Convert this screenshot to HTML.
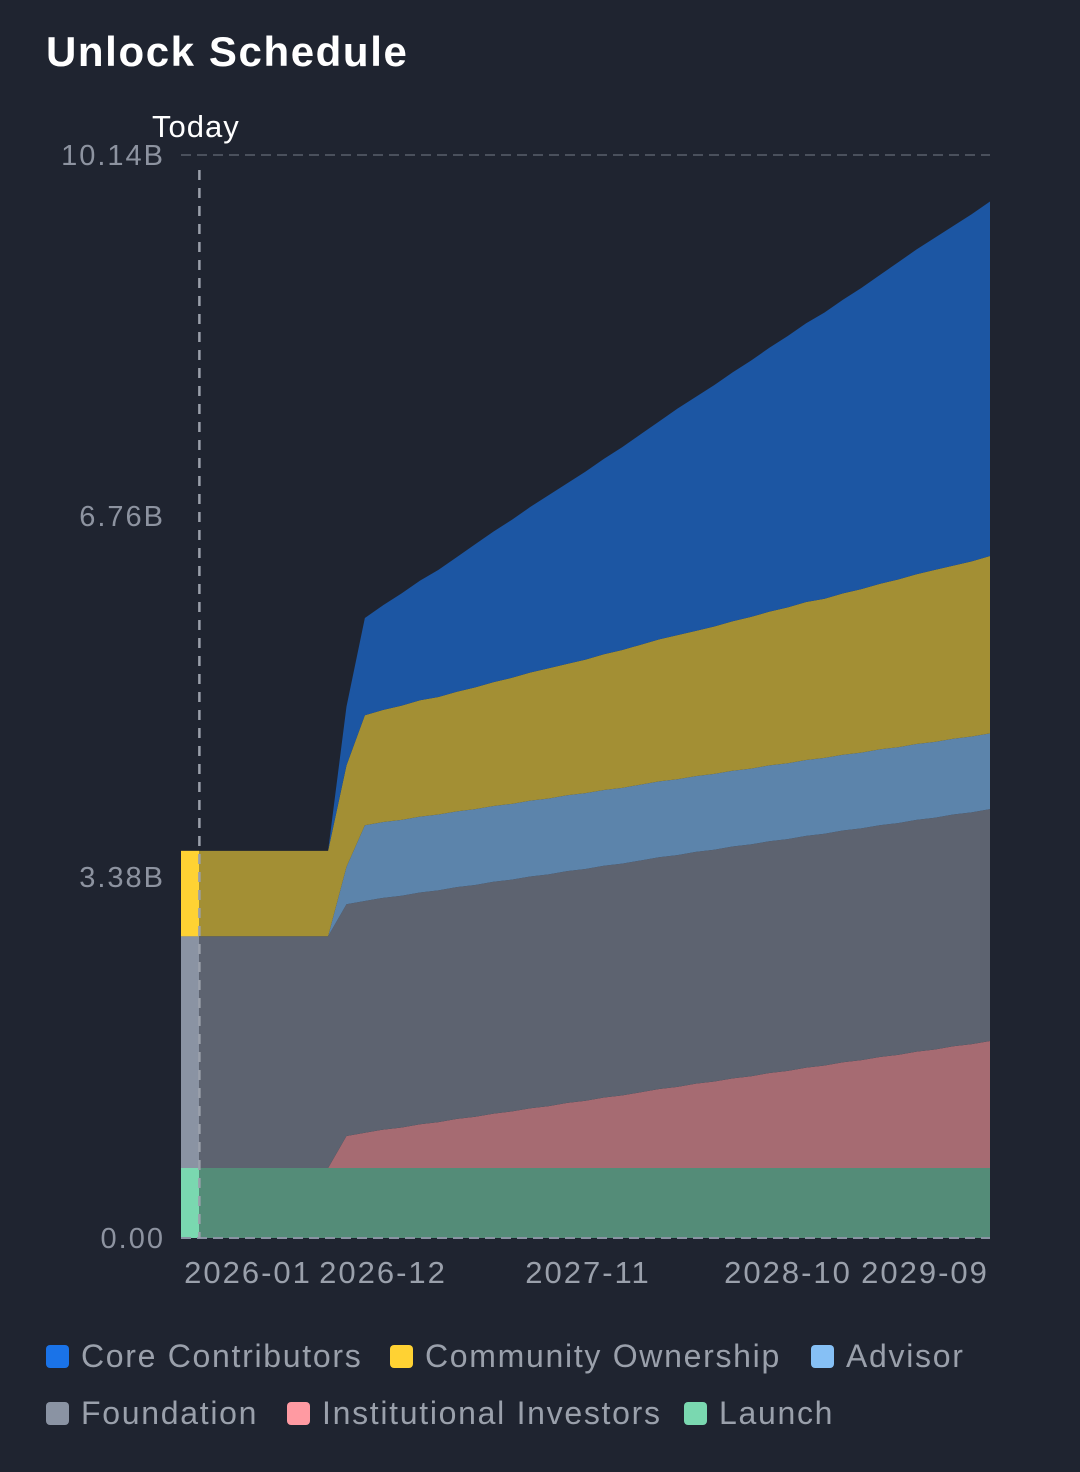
<!DOCTYPE html>
<html><head><meta charset="utf-8"><style>
body{margin:0;background:#1f2430;width:1080px;height:1472px;overflow:hidden;font-family:"Liberation Sans",sans-serif}
</style></head><body>
<svg id="c" width="1080" height="1472" style="position:absolute;left:0;top:0">
<text x="46" y="66" fill="#ffffff" font-size="42" font-weight="bold" letter-spacing="1.6">Unlock Schedule</text>
</svg>
<script>
const months=["2025-12","2026-01","2026-02","2026-03","2026-04","2026-05","2026-06","2026-07","2026-08","2026-09","2026-10","2026-11","2026-12","2027-01","2027-02","2027-03","2027-04","2027-05","2027-06","2027-07","2027-08","2027-09","2027-10","2027-11","2027-12","2028-01","2028-02","2028-03","2028-04","2028-05","2028-06","2028-07","2028-08","2028-09","2028-10","2028-11","2028-12","2029-01","2029-02","2029-03","2029-04","2029-05","2029-06","2029-07","2029-08"];
const launch=Array(45).fill(0.655);
const investors=[0,0,0,0,0,0,0,0,0,0.30,.33,.36,.38,.41,.43,.46,.48,.51,.53,.56,.58,.61,.63,.66,.68,.71,.74,.76,.79,.81,.84,.86,.89,.91,.94,.96,.99,1.01,1.04,1.06,1.09,1.11,1.14,1.16,1.19];
const foundation=Array(45).fill(2.17);
const advisor=[0,0,0,0,0,0,0,0,0,0.35].concat(Array(35).fill(0.71));
const community=[.8,.8,.8,.8,.8,.8,.8,.8,.8,.95,1.03,1.05,1.07,1.09,1.10,1.12,1.14,1.16,1.18,1.20,1.22,1.23,1.25,1.27,1.29,1.31,1.33,1.35,1.36,1.38,1.40,1.42,1.44,1.46,1.48,1.49,1.51,1.53,1.55,1.57,1.59,1.61,1.62,1.64,1.66];
const core=[0,0,0,0,0,0,0,0,0,0.55,.91,.98,1.05,1.12,1.19,1.26,1.34,1.41,1.48,1.55,1.62,1.69,1.76,1.83,1.90,1.97,2.04,2.12,2.19,2.26,2.33,2.40,2.47,2.54,2.61,2.68,2.75,2.82,2.89,2.97,3.04,3.11,3.18,3.25,3.32];
const yTicks=["0.00","3.38B","6.76B","10.14B"];
const yTickVals=[0,3.38,6.76,10.14];
const xTickLabels=["2026-01","2026-12","2027-11","2028-10","2029-09"];
const todayIndex=1;

const svg=document.getElementById('c');const NS="http://www.w3.org/2000/svg";
const X0=181,X1=990,Y0=1238,Y1=155,YMAX=10.14;
const xs=i=>X0+i*(X1-X0)/(months.length-1);
const ys=v=>Y0-v*(Y0-Y1)/YMAX;
function mk(t,a,p){const e=document.createElementNS(NS,t);for(const k in a)e.setAttribute(k,a[k]);(p||svg).appendChild(e);return e;}
const series=[["launch",launch,"#548c78","#7ad8b0"],["institutional-investors",investors,"#a66b72","#ff9aa2"],["foundation",foundation,"#5d6370","#8a93a3"],["advisor",advisor,"#5c84ab","#86c0f5"],["community-ownership",community,"#a38f34","#ffd233"],["core-contributors",core,"#1c56a3","#2a7ef0"]];
const defs=mk('defs',{});
const cp=mk('clipPath',{id:'past'},defs);mk('rect',{x:X0,y:0,width:199-X0,height:1472},cp);
const cum=Array(45).fill(0);
const paths=[];
series.forEach(([n,vals,c,hc])=>{
 const lo=cum.slice();vals.forEach((v,i)=>cum[i]+=v);
 let d="M"+xs(0)+","+ys(cum[0]);
 for(let i=1;i<45;i++)d+="L"+xs(i)+","+ys(cum[i]);
 for(let i=44;i>=0;i--)d+="L"+xs(i)+","+ys(lo[i]);
 d+="Z";paths.push([n,d,c,hc]);
});
paths.forEach(([n,d,c])=>{const p=mk('path',{d:d,fill:c});

});
const g=mk('g',{'clip-path':'url(#past)'});
paths.forEach(([n,d,c,hc])=>{const p=mk('path',{d:d,fill:hc},g);

});
const gt=mk('line',{x1:X0,x2:X1,y1:ys(YMAX),y2:ys(YMAX),stroke:'#4a505c','stroke-width':2,'stroke-dasharray':'10 6'});

const gb=mk('line',{x1:X0,x2:X1,y1:Y0,y2:Y0,stroke:'#8a93a3','stroke-width':2,'stroke-dasharray':'10 6'});

yTicks.forEach((t,i)=>{const e=mk('text',{x:165,y:ys(yTickVals[i])+10,'text-anchor':'end',fill:'#8d93a0','font-size':29,'letter-spacing':2});e.textContent=t;
});
const tl=mk('line',{x1:xs(todayIndex),x2:xs(todayIndex),y1:170,y2:Y0,stroke:'#9aa0ab','stroke-width':2.5,'stroke-dasharray':'10 8'});

const tt=mk('text',{x:152,y:137,fill:'#ffffff','font-size':31,'letter-spacing':1});tt.textContent="Today";

const xPos=[248,383,588,788,925];
xTickLabels.forEach((t,i)=>{const e=mk('text',{x:xPos[i],y:1283,'text-anchor':'middle',fill:'#9aa0ab','font-size':31,'letter-spacing':2});e.textContent=t;
});
const leg=[["Core Contributors","#1a73e8",46,1356],["Community Ownership","#ffd233",390,1356],["Advisor","#86c0f5",811,1356],["Foundation","#8a93a3",46,1413],["Institutional Investors","#ff9aa2",287,1413],["Launch","#7ad8b0",684,1413]];
leg.forEach(([t,c,x,y])=>{const g2=mk('g',{});

mk('rect',{x:x,y:y-11,width:23,height:23,rx:4,fill:c},g2);
const e=mk('text',{x:x+35,y:y+11,fill:'#9aa0ab','font-size':32,'letter-spacing':1.7},g2);e.textContent=t;});
</script>
</body></html>
